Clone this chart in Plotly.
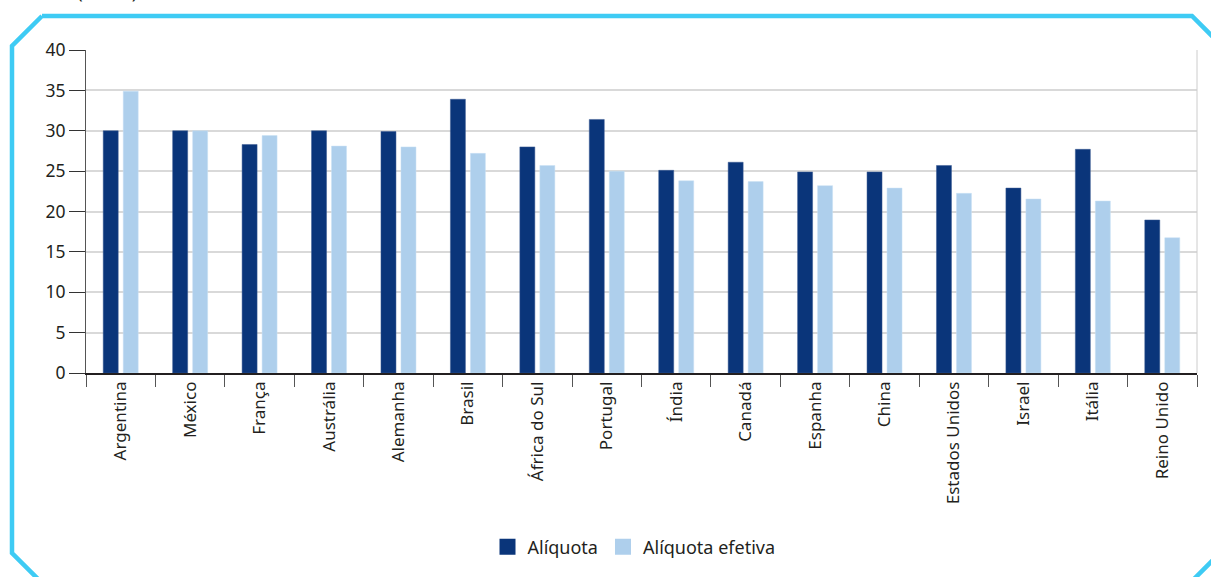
import plotly.graph_objects as go

categories = ["Argentina", "México", "França", "Austrália", "Alemanha", "Brasil",
              "África do Sul", "Portugal", "Índia", "Canadá", "Espanha", "China",
              "Estados Unidos", "Israel", "Itália", "Reino Unido"]
aliquota = [30, 30, 28.3, 30, 29.9, 33.9, 28, 31.4, 25.1, 26.1, 24.9, 24.9, 25.7, 22.9, 27.7, 18.95]
aliquota_efetiva = [34.9, 30, 29.4, 28.1, 28, 27.2, 25.7, 25, 23.8, 23.7, 23.2, 22.9, 22.25, 21.55, 21.3, 16.75]
y_ticks = [0, 5, 10, 15, 20, 25, 30, 35, 40]
series_names = ["Alíquota", "Alíquota efetiva"]

W, H = 1211, 577
L, R, T, B = 86, 14, 50, 204
pw, ph = W - L - R, H - T - B

def px(x):
    return (x - L) / pw

def py(y):
    return (H - B - y) / ph

FONT = "Noto Sans"
DARK = "#0a357a"
LIGHT = "#aecfec"
TXT = "#231f20"

fig = go.Figure()
fig.add_trace(go.Bar(x=categories, y=aliquota, name=series_names[0], marker_color=DARK,
                     marker_line=dict(color="#3a5a93", width=0.5), showlegend=False))
fig.add_trace(go.Bar(x=categories, y=aliquota_efetiva, name=series_names[1], marker_color=LIGHT,
                     marker_line=dict(color="#c9e0f5", width=0.5), showlegend=False))
# legend entries with larger square symbols
for nm, col in zip(series_names, [DARK, LIGHT]):
    fig.add_trace(go.Scatter(x=[None], y=[None], mode="markers", name=nm,
                             marker=dict(symbol="square", size=16, color=col)))

fig.update_layout(
    width=W, height=H,
    margin=dict(l=L, r=R, t=T, b=B, autoexpand=False),
    plot_bgcolor="white", paper_bgcolor="white",
    barmode="group", bargap=0.424, bargroupgap=0.25,
    font=dict(family=FONT, color=TXT),
    showlegend=True,
    legend=dict(orientation="h", x=px(634), xanchor="center", y=py(547), yanchor="middle",
                font=dict(size=18, family=FONT, color=TXT), itemwidth=30,
                traceorder="normal"),
)
fig.update_xaxes(
    type="category", tickson="boundaries", ticks="outside", ticklen=12, tickcolor="#555555",
    tickangle=-90, tickfont=dict(size=17, family=FONT, color=TXT),
    showline=True, linecolor=TXT, linewidth=1.5, showgrid=False,
)
fig.update_yaxes(
    range=[0, 40], tickvals=y_ticks, ticks="outside", ticklen=16, tickcolor="#333333",
    tickfont=dict(size=17.5, family=FONT, color=TXT),
    showline=True, linecolor="#555555", linewidth=1,
    showgrid=True, gridcolor="#d9d9d9", gridwidth=1.5, zeroline=False,
)

# right border line of plot area
fig.add_shape(type="line", xref="paper", yref="paper", x0=1, x1=1, y0=0, y1=1,
              line=dict(color="#cccccc", width=1))

# frame with cut corners (partly outside the visible page, as in the reference)
frame_pts = [(42, 16), (1192, 16), (1220, 44), (1220, 553), (1186, 587),
             (46, 587), (12, 553), (12, 46), (42, 16)]
path = "M " + " L ".join(f"{px(x):.5f},{py(y):.5f}" for x, y in frame_pts)
fig.add_shape(type="path", xref="paper", yref="paper", path=path,
              line=dict(color="#3ecbf4", width=4.5), layer="above")

fig.add_annotation(text="(Em %)", xref="paper", yref="paper", x=px(75), y=py(6),
                   xanchor="left", yanchor="bottom", showarrow=False,
                   font=dict(size=19, family=FONT, color=TXT))

fig.write_html("out.html", config={"displayModeBar": False},
               post_script="document.body.style.margin='0';document.body.style.overflow='hidden';")
